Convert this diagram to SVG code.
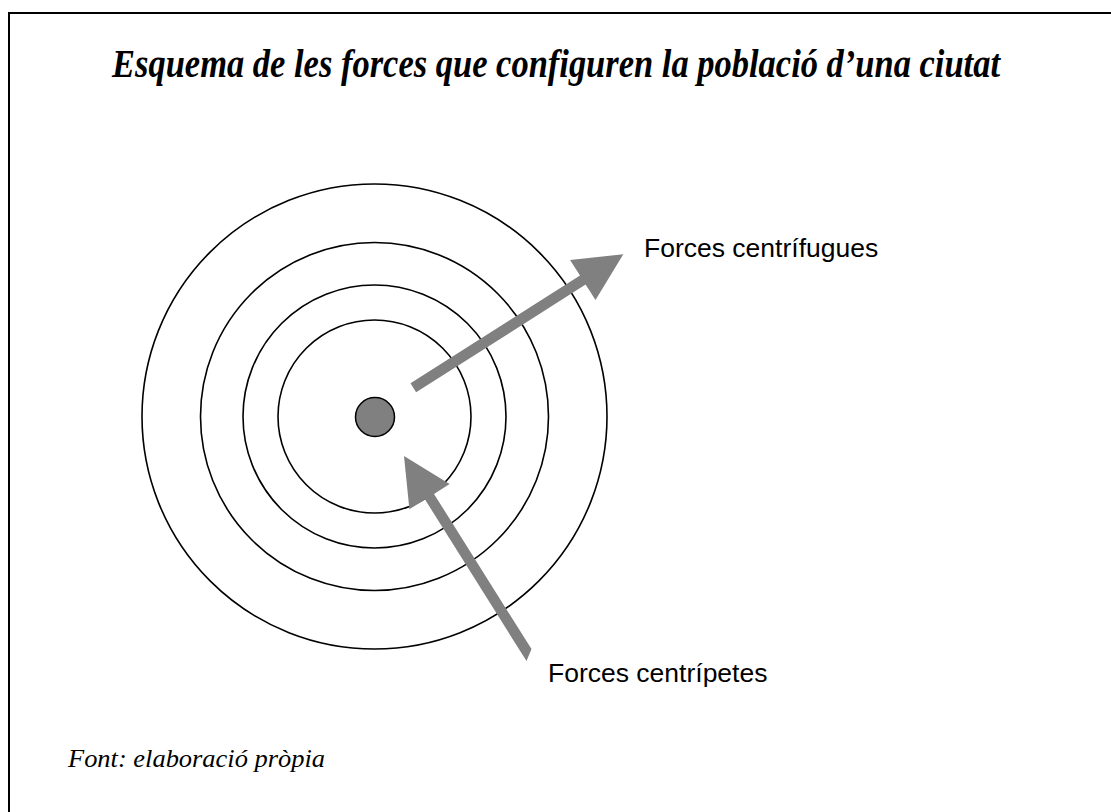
<svg xmlns="http://www.w3.org/2000/svg" width="1111" height="812" viewBox="0 0 1111 812">
<style>
.ring{fill:none;stroke:#000;stroke-width:1.6}
.arrow{fill:#808080;stroke:none}
.label{font-family:"Liberation Sans",Arial,sans-serif;font-size:26.5px;fill:#000}
.title{font-family:"Liberation Serif","Times New Roman",serif;font-size:41px;font-weight:bold;font-style:italic;fill:#000}
.foot{font-family:"Liberation Serif","Times New Roman",serif;font-size:26px;font-style:italic;fill:#000}
</style>
<rect width="1111" height="812" fill="#fff"/>
<path d="M9,830 V13 H1130" fill="none" stroke="#000" stroke-width="2"/>
<text class="title" x="112" y="77" textLength="888" lengthAdjust="spacingAndGlyphs">Esquema de les forces que configuren la població d’una ciutat</text>
<g id="rings">
<circle class="ring" cx="374.5" cy="416.5" r="232.5"/>
<circle class="ring" cx="374.5" cy="416.5" r="174"/>
<circle class="ring" cx="374.5" cy="416.5" r="131.5"/>
<circle class="ring" cx="374.5" cy="416.5" r="96.5"/>
</g>
<g id="center">
<circle cx="375" cy="417" r="19.5" fill="#808080" stroke="#000" stroke-width="1.5"/>
</g>
<g id="connectors">
<polygon class="arrow" points="410.5,383.3 580,275.6 570.1,260.1 623.3,254.3 595.5,300.1 585.6,284.6 416.1,392.3"/>
<polygon class="arrow" points="404,456 409.4,509.3 425,499.5 526.5,661.1 531.5,649.1 434,493.9 449.6,484.1"/>
</g>
<g id="label-centrifugues">
<text class="label" x="644" y="257">Forces centrífugues</text>
</g>
<g id="label-centripetes">
<text class="label" x="548" y="682">Forces centrípetes</text>
</g>
<text class="foot" x="68" y="767" textLength="257" lengthAdjust="spacingAndGlyphs">Font: elaboració pròpia</text>
</svg>
